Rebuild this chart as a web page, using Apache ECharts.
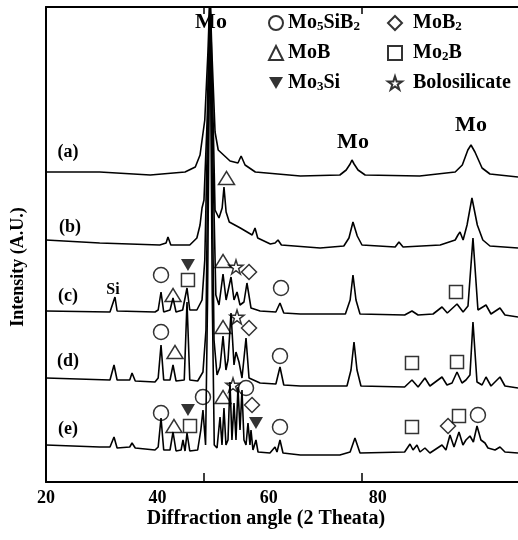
<!DOCTYPE html>
<html>
<head>
<meta charset="utf-8">
<script src="https://cdn.jsdelivr.net/npm/echarts@6/dist/echarts.min.js"></script>
<style>
html, body { margin: 0; padding: 0; background: #fff; }
#chart { width: 518px; height: 540px; }
</style>
</head>
<body>
<div id="chart"></div>
<script>
// 2-theta (deg) vs intensity (a.u.), traces already stacked with their offsets
const traceA = [[20,310],[26.8,310],[33.2,307],[37.6,310],[38.9,315],[39.5,327],[40.1,362],[40.5,430],[40.76,490],[41.0,430],[41.4,350],[41.8,332],[43.3,321],[44.3,319],[44.7,326],[45.2,317],[46.5,310],[52.2,306],[57.2,307],[58.0,312],[58.5,318],[58.73,322],[59.0,318],[59.5,312],[60.4,307],[67.3,306],[71.8,310],[72.7,317],[73.4,332],[73.8,337],[74.3,330],[75.2,314],[76.2,308],[79.75,305]];
const traceB = [[20,242],[26.8,239],[34.4,237],[35.2,239],[35.44,245],[35.8,237],[38.2,237],[39.1,244],[39.5,257],[39.75,274],[40.0,282],[40.4,362],[40.76,490],[41.1,382],[41.4,272],[41.9,264],[42.3,274],[42.53,295],[42.8,270],[43.2,260],[44.6,254],[46.1,247],[46.46,254],[46.8,244],[48.4,238],[49.0,239],[49.37,242],[49.8,237],[54.7,234],[57.7,236],[58.35,244],[58.86,260],[59.4,246],[60.0,237],[64.2,235],[64.68,240],[65.2,235],[69.9,237],[71.8,242],[72.15,247],[72.41,250],[72.8,242],[73.3,257],[73.92,284],[74.6,257],[75.3,242],[76.2,236],[79.75,234]];
const traceC = [[20,171],[28.1,170],[28.73,185],[29.0,171],[33.8,170],[34.2,172],[34.56,190],[34.9,170],[35.7,172],[36.08,184],[36.46,170],[37.3,172],[37.85,194],[38.2,172],[39.1,172],[39.75,182],[40.1,222],[40.4,332],[40.76,490],[41.1,332],[41.5,187],[41.9,177],[42.41,208],[42.8,182],[43.42,205],[43.8,182],[44.18,190],[44.56,177],[45.06,180],[45.44,199],[45.95,174],[47.1,171],[49.1,170],[49.62,179],[50.1,169],[52.2,168],[57.9,168],[58.5,182],[58.86,207],[59.24,182],[59.75,168],[65.4,167],[66.33,171],[67.1,167],[69.0,168],[70.13,175],[70.8,169],[72.03,178],[72.8,170],[73.42,176],[74.05,244],[74.68,172],[75.7,177],[76.33,168],[77.47,174],[78.1,167],[79.75,165]];
const traceD = [[20,104],[28.1,102],[28.61,117],[29.0,102],[30.6,102],[30.89,109],[31.3,101],[33.8,100],[34.2,104],[34.56,137],[34.9,102],[35.7,102],[36.08,117],[36.46,101],[37.5,102],[37.85,180],[38.2,102],[39.2,101],[39.87,110],[40.25,152],[40.5,332],[40.76,490],[41.0,332],[41.27,142],[41.65,107],[42.03,115],[42.41,146],[42.78,112],[43.04,122],[43.42,169],[43.8,117],[44.05,130],[44.43,120],[44.81,104],[45.32,144],[45.7,104],[47.1,99],[49.1,98],[49.62,115],[50.1,97],[52.2,96],[58.1,96],[58.61,112],[58.99,140],[59.37,112],[59.87,96],[65.4,95],[66.33,102],[67.1,95],[67.97,104],[68.6,96],[70.13,105],[70.76,97],[71.4,99],[72.03,110],[72.66,99],[73.16,102],[73.67,107],[74.05,160],[74.56,100],[75.2,97],[75.7,105],[76.33,96],[77.47,105],[78.1,96],[79.75,94]];
const traceE = [[20,37],[26.8,35],[28.1,35],[28.61,45],[29.0,34],[30.6,35],[30.89,39],[31.3,34],[33.8,32],[34.2,35],[34.56,64],[34.9,32],[35.7,32],[36.08,50],[36.46,31],[37.1,32],[37.34,42],[37.6,31],[37.85,49],[38.2,31],[39.2,32],[39.6,52],[39.87,72],[40.2,37],[40.45,182],[40.76,490],[41.05,182],[41.3,37],[41.65,34],[42.03,65],[42.28,37],[42.53,74],[42.78,37],[43.04,42],[43.29,100],[43.54,42],[43.8,79],[44.05,42],[44.3,95],[44.56,52],[44.81,92],[45.06,42],[45.32,37],[45.57,59],[45.82,37],[45.95,52],[46.2,32],[46.58,42],[46.84,30],[48.35,29],[48.99,35],[49.24,30],[49.62,42],[50.0,29],[52.2,27],[57.2,27],[58.5,30],[59.11,44],[59.75,29],[65.4,30],[66.08,38],[66.46,32],[66.96,37],[67.34,30],[67.97,34],[68.6,29],[70.13,37],[70.63,32],[71.14,47],[71.65,35],[72.28,50],[72.78,37],[73.16,42],[73.67,46],[74.1,40],[74.56,56],[75.06,42],[75.57,39],[75.95,34],[76.84,32],[77.47,35],[78.1,30],[79.75,29]];

// phase markers sitting above the peaks they index
const mo5sib2Marks = [[34.56,207],[49.75,194],[34.56,150],[49.62,126],[34.56,69],[39.87,85],[45.32,94],[49.62,55],[74.68,67]];
const mobMarks = [[42.85,304],[36.08,187],[42.41,221],[36.33,130],[42.41,155],[36.2,56],[42.41,85]];
const mo3siMarks = [[37.97,217],[37.97,72],[46.58,59]];
const mob2Marks = [[45.7,210],[45.7,154],[46.08,77],[70.89,56]];
const mo2bMarks = [[37.97,202],[71.9,190],[66.33,119],[72.03,120],[38.23,56],[66.33,55],[72.28,66]];
const boroMarks = [[44.05,215],[44.18,165],[43.67,97]];

// the printed labels in the source figure do not sit on its tick marks
const tickLabels = ['20', '40', '60', '80'];
const tickLabelAt = [20, 34.1, 48.2, 62.0];
const tickMarkAt = [40, 60];

const FONT = 'Liberation Serif';
const starPath = 'path://M10,0L12.25,6.91L19.51,6.91L13.63,11.18L15.88,18.09L10,13.82L4.12,18.09L6.37,11.18L0.49,6.91L7.75,6.91Z';
const downTri = 'path://M0,0L10,0L5,8.66Z';
const diamondPath = 'path://M5,0L10,5L5,10L0,5Z';

let chart = echarts.init(document.getElementById('chart'));

function trace(name, data) {
    return {
        name: name,
        type: 'line',
        data: data,
        showSymbol: false,
        symbol: 'none',
        lineStyle: { color: '#000', width: 1.6 },
        silent: true,
        z: 2
    };
}

function marks(name, data, symbol, size, fill) {
    return {
        name: name,
        type: 'scatter',
        data: data,
        symbol: symbol,
        symbolSize: size,
        itemStyle: {
            color: fill ? '#000' : 'rgba(255,255,255,0)',
            borderColor: '#000',
            borderWidth: fill ? 0 : 1.5
        },
        silent: true,
        z: 3
    };
}

function text(str, x, y, size, rot) {
    return {
        type: 'text',
        x: x,
        y: y,
        rotation: rot || 0,
        style: {
            text: str,
            fill: '#000',
            font: 'bold ' + size + 'px "' + FONT + '"',
            align: 'center',
            verticalAlign: 'middle'
        }
    };
}

const legendText = {
    fontFamily: FONT,
    fontWeight: 'bold',
    fontSize: 20,
    lineHeight: 20,
    color: '#000',
    rich: {
        s: { fontFamily: FONT, fontWeight: 'bold', fontSize: 13, lineHeight: 3, verticalAlign: 'bottom' }
    }
};

chart.setOption({
    animation: false,
    backgroundColor: '#fff',
    grid: { left: 46, right: 0, top: 7, bottom: 58 },
    legend: [{
        orient: 'vertical',
        left: 263,
        top: 8,
        itemWidth: 14,
        itemHeight: 14,
        itemGap: 10,
        selectedMode: false,
        data: ['Mo5SiB2', 'MoB', 'Mo3Si'],
        formatter: n => n.replace(/(\d)/g, '{s|$1}'),
        textStyle: legendText
    }, {
        orient: 'vertical',
        left: 382,
        top: 8,
        itemWidth: 14,
        itemHeight: 14,
        itemGap: 10,
        selectedMode: false,
        data: ['MoB2', 'Mo2B', 'Bolosilicate'],
        formatter: n => n.replace(/(\d)/g, '{s|$1}'),
        textStyle: Object.assign({ padding: [0, 0, 0, 6] }, legendText)
    }],
    xAxis: [{
        type: 'value',
        min: 20,
        max: 79.75,
        position: 'bottom',
        axisLine: { lineStyle: { color: '#000', width: 2 } },
        axisTick: { inside: true, length: 9, customValues: tickMarkAt, lineStyle: { color: '#000', width: 1.5 } },
        axisLabel: {
            customValues: tickLabelAt,
            margin: 7,
            color: '#000',
            fontFamily: FONT,
            fontWeight: 'bold',
            fontSize: 18,
            formatter: v => tickLabels[tickLabelAt.indexOf(v)]
        },
        splitLine: { show: false }
    }, {
        type: 'value',
        min: 20,
        max: 79.75,
        position: 'top',
        axisLine: { lineStyle: { color: '#000', width: 2 } },
        axisTick: { inside: true, length: 7, customValues: tickMarkAt, lineStyle: { color: '#000', width: 1.5 } },
        axisLabel: { show: false },
        splitLine: { show: false }
    }],
    yAxis: {
        type: 'value',
        min: 0,
        max: 475,
        axisLine: { show: true, lineStyle: { color: '#000', width: 2 } },
        axisTick: { show: false },
        axisLabel: { show: false },
        splitLine: { show: false }
    },
    graphic: [
        text('Mo', 211, 22, 22),
        text('Mo', 353, 142, 22),
        text('Mo', 471, 125, 22),
        text('(a)', 68, 152, 18),
        text('(b)', 70, 227, 18),
        text('(c)', 68, 296, 18),
        text('(d)', 68, 361, 18),
        text('(e)', 68, 429, 18),
        text('Si', 113, 290, 16),
        text('Intensity (A.U.)', 18, 267, 18, Math.PI / 2),
        text('Diffraction angle (2 Theata)', 266, 519, 20)
    ],
    series: [
        trace('(a)', traceA),
        trace('(b)', traceB),
        trace('(c)', traceC),
        trace('(d)', traceD),
        trace('(e)', traceE),
        marks('Mo5SiB2', mo5sib2Marks, 'circle', 15, false),
        marks('MoB', mobMarks, 'triangle', [16, 13], false),
        marks('Mo3Si', mo3siMarks, downTri, [14, 12], true),
        marks('MoB2', mob2Marks, diamondPath, 15, false),
        marks('Mo2B', mo2bMarks, 'rect', 13, false),
        marks('Bolosilicate', boroMarks, starPath, 14, false)
    ]
});
</script>
</body>
</html>
